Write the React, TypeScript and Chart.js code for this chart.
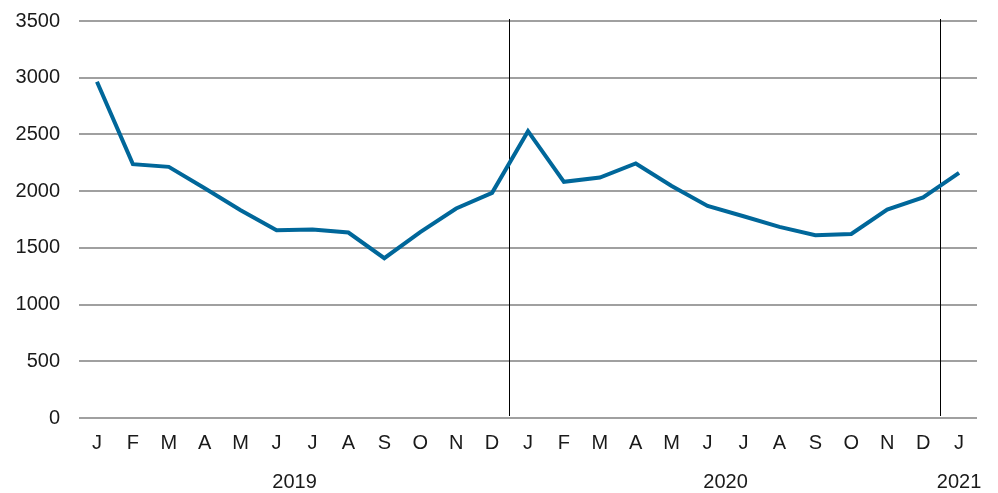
import React, { useEffect, useRef } from "react";
import { Chart, registerables } from "chart.js";

Chart.register(...registerables);

const months = ["J","F","M","A","M","J","J","A","S","O","N","D","J","F","M","A","M","J","J","A","S","O","N","D","J"];
const values = [2964,2238,2214,2025,1832,1655,1662,1635,1409,1638,1847,1985,2529,2082,2120,2244,2046,1870,1779,1685,1611,1623,1838,1944,2161];
const yearLabels = ["2019","2020","2021"];
const yearPositions = [5.5, 17.5, 24];
const separators = [11.5, 23.5];
const yMin = 0;
const yMax = 3500;
const yStep = 500;

const FONT = { family: "'Liberation Sans', Arial, sans-serif", size: 20 };

const separatorPlugin = {
  id: "separators",
  beforeDatasetsDraw(chart: any) {
    const { ctx, chartArea } = chart;
    const xs = chart.scales.xYear;
    ctx.save();
    ctx.strokeStyle = "#000";
    ctx.lineWidth = 1;
    separators.forEach((v) => {
      const x = Math.round(xs.getPixelForValue(v)) - 0.5;
      ctx.beginPath();
      ctx.moveTo(x, chartArea.top - 2);
      ctx.lineTo(x, chartArea.bottom - 2);
      ctx.stroke();
    });
    ctx.restore();
  },
};

function noPad(scale: any) {
  scale.paddingLeft = 0;
  scale.paddingRight = 0;
  scale.paddingTop = 0;
  scale.paddingBottom = 0;
}

export default function App() {
  const ref = useRef<HTMLCanvasElement>(null);
  useEffect(() => {
    if (!ref.current) return;
    const chart = new Chart(ref.current, {
      type: "line",
      data: {
        labels: months,
        datasets: [
          {
            data: values,
            borderColor: "#00679a",
            borderWidth: 4,
            pointRadius: 0,
            tension: 0,
            fill: false,
          },
        ],
      },
      options: {
        animation: false,
        responsive: true,
        maintainAspectRatio: false,
        layout: { padding: { top: 21, right: 21, left: 0, bottom: 0 } },
        plugins: { legend: { display: false }, tooltip: { enabled: false } },
        scales: {
          x: {
            type: "category",
            position: "bottom",
            offset: true,
            weight: 0,
            grid: { display: false, drawTicks: false },
            border: { display: false },
            ticks: { color: "#1a1a1a", font: FONT, padding: 13, maxRotation: 0, autoSkip: false },
            afterFit: (s: any) => { s.height = 40; noPad(s); },
          },
          xYear: {
            type: "linear",
            position: "bottom",
            min: -0.5,
            max: 24.5,
            weight: 1,
            grid: { display: false, drawTicks: false },
            border: { display: false },
            afterBuildTicks: (s: any) => { s.ticks = yearPositions.map((v) => ({ value: v })); },
            ticks: {
              color: "#1a1a1a",
              font: FONT,
              padding: 12,
              maxRotation: 0,
              autoSkip: false,
              callback: (_v: any, i: number) => yearLabels[i],
            },
            afterFit: (s: any) => { s.height = 35; noPad(s); },
          },
          y: {
            min: yMin,
            max: yMax,
            ticks: {
              stepSize: yStep,
              color: "#1a1a1a",
              font: FONT,
              padding: 19,
              callback: (v: any) => String(v),
            },
            grid: { color: "#a0a0a0", lineWidth: 2, drawTicks: false },
            border: { display: false },
            afterFit: (s: any) => { s.width = 79; noPad(s); },
          },
        },
      },
      plugins: [separatorPlugin],
    });
    return () => chart.destroy();
  }, []);
  return (
    <div style={{ position: "fixed", left: 0, top: 0, width: 998, height: 493, background: "#fff" }}>
      <canvas ref={ref} />
    </div>
  );
}
